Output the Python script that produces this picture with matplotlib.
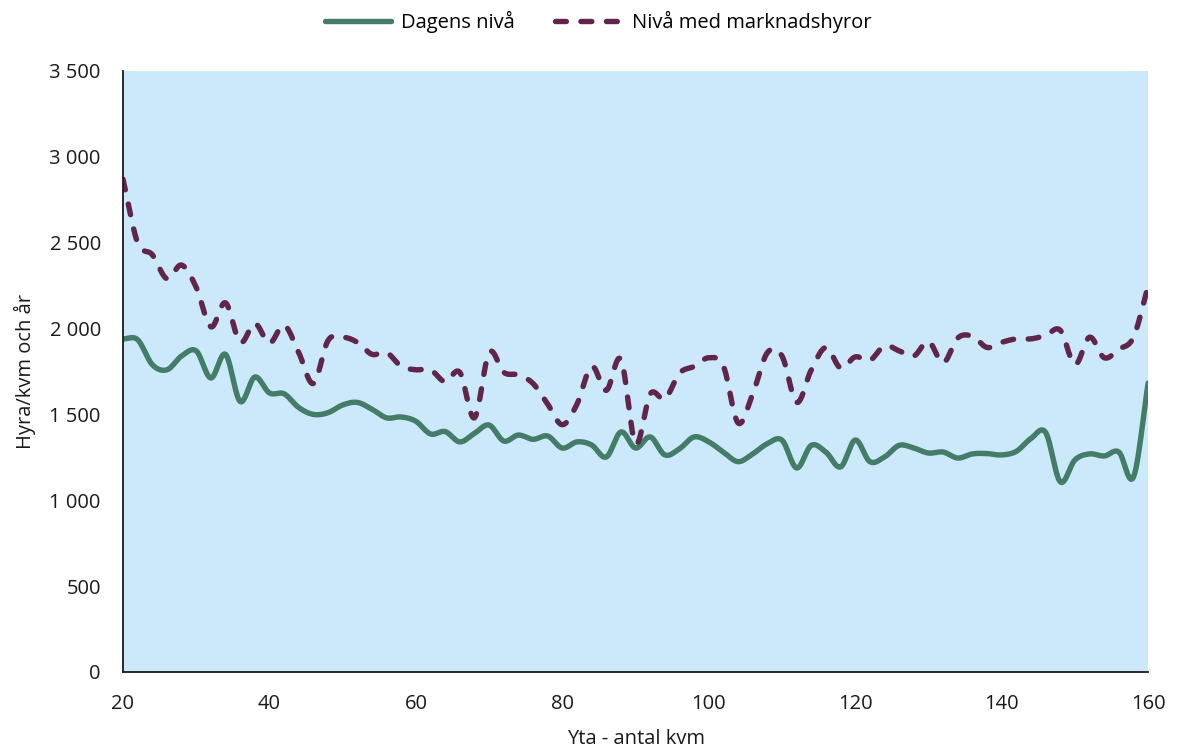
import numpy as np
import matplotlib.pyplot as plt
from matplotlib.ticker import FuncFormatter

# === data (one point every 2 kvm) ===
yta = list(range(20, 161, 2))

dagens = [1940, 1935, 1790, 1760, 1840, 1870, 1712, 1850, 1575, 1718,
          1625, 1620, 1540, 1500, 1510, 1555, 1570, 1530, 1480, 1485,
          1460, 1386, 1400, 1340, 1390, 1438, 1345, 1380, 1355, 1374,
          1304, 1340, 1322, 1252, 1398, 1304, 1369, 1264, 1300, 1369,
          1340, 1280, 1225, 1270, 1330, 1350, 1188, 1320, 1280, 1194,
          1351, 1225, 1252, 1320, 1304, 1275, 1281, 1246, 1270, 1272,
          1264, 1285, 1360, 1395, 1107, 1235, 1270, 1258, 1281, 1136,
          1683]

marknad = [2870, 2500, 2430, 2290, 2370, 2240, 2010, 2150, 1920, 2030,
           1915, 2020, 1860, 1680, 1930, 1950, 1920, 1850, 1860, 1780,
           1760, 1760, 1690, 1745, 1480, 1860, 1745, 1730, 1680, 1560,
           1440, 1560, 1780, 1640, 1820, 1330, 1620, 1590, 1740, 1780,
           1830, 1780, 1450, 1620, 1860, 1840, 1570, 1760, 1890, 1770,
           1835, 1815, 1900, 1870, 1840, 1925, 1800, 1945, 1955, 1890,
           1920, 1940, 1940, 1960, 1990, 1790, 1950, 1830, 1880, 1950,
           2250]

labels = ["Dagens nivå", "Nivå med marknadshyror"]
colors = ["#437c67", "#612549"]


# === smoothing like Excel "smoothed line" (Catmull-Rom) ===
def smooth(x, y, n=12):
    x = np.asarray(x, float)
    y = np.asarray(y, float)
    px = np.concatenate([[2 * x[0] - x[1]], x, [2 * x[-1] - x[-2]]])
    py = np.concatenate([[2 * y[0] - y[1]], y, [2 * y[-1] - y[-2]]])
    xs, ys = [], []
    t = np.linspace(0, 1, n, endpoint=False)
    for i in range(1, len(px) - 2):
        for arr, out in ((px, xs), (py, ys)):
            p0, p1, p2, p3 = arr[i - 1], arr[i], arr[i + 1], arr[i + 2]
            out.extend(0.5 * (2 * p1 + (-p0 + p2) * t
                              + (2 * p0 - 5 * p1 + 4 * p2 - p3) * t ** 2
                              + (-p0 + 3 * p1 - 3 * p2 + p3) * t ** 3))
    xs.append(x[-1])
    ys.append(y[-1])
    return np.array(xs), np.array(ys)


FS = 14.5
plt.rcParams['font.family'] = ['Open Sans', 'DejaVu Sans']
plt.rcParams['font.size'] = FS

fig = plt.figure(figsize=(11.77, 7.52), dpi=100)
ax = fig.add_axes([0.1045, 0.1064, 0.871, 0.7992])
ax.set_facecolor("#cce9fb")

lw = 3.9
sx, sy = smooth(yta, dagens)
ax.plot(sx, sy, color=colors[0], lw=lw, solid_capstyle="round",
        solid_joinstyle="round", label=labels[0])
sx, sy = smooth(yta, marknad)
ax.plot(sx, sy, color=colors[1], lw=lw, dashes=(2.0, 2.7),
        dash_capstyle="round", label=labels[1])

ax.set_xlim(20, 160)
ax.set_ylim(0, 3500)
ax.set_xticks(range(20, 161, 20))
ax.set_yticks(range(0, 3501, 500))
ax.yaxis.set_major_formatter(FuncFormatter(lambda v, p: f"{int(v):,}".replace(",", " ")))
ax.tick_params(axis="y", length=0, pad=16, labelsize=FS, colors="#1a1a1a")
ax.tick_params(axis="x", length=0, pad=16, labelsize=FS, colors="#1a1a1a")

for s in ["top", "right"]:
    ax.spines[s].set_visible(False)
for s in ["left", "bottom"]:
    ax.spines[s].set_color("#1a1a1a")
    ax.spines[s].set_linewidth(1.3)

ax.set_xlabel("Yta - antal kvm", fontsize=FS, labelpad=11, color="#1a1a1a")
ax.set_ylabel("Hyra/kvm och år", fontsize=FS, labelpad=10, color="#1a1a1a")

fig.legend(loc="upper center", bbox_to_anchor=(0.508, 1.009), ncol=2, frameon=False,
           fontsize=FS, handlelength=3.3, handletextpad=0.5, columnspacing=2.0)

fig.savefig("out.png", dpi=100)
